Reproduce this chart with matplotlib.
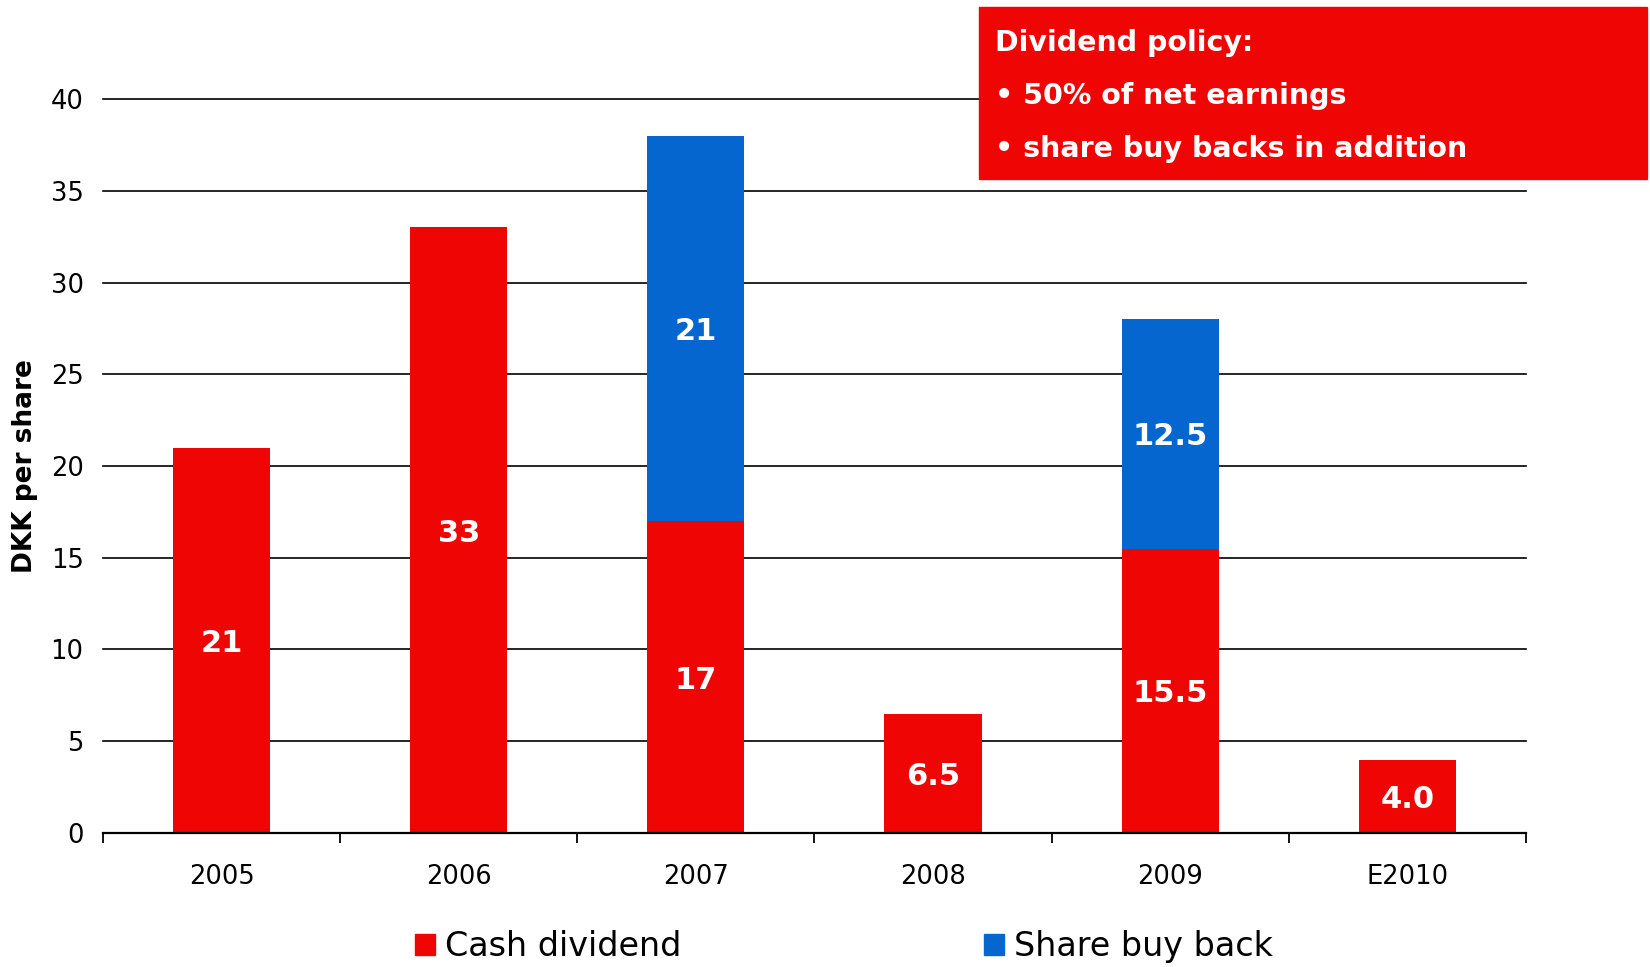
import numpy as np
from matplotlib import pyplot as plt
from matplotlib.patches import Rectangle, Patch

years = ['2005', '2006', '2007', '2008', '2009', 'E2010']
cash = [21, 33, 17, 6.5, 15.5, 4.0]
buyback = [0, 0, 21, 0, 12.5, 0]
cash_labels = ['21', '33', '17', '6.5', '15.5', '4.0']
buyback_labels = ['', '', '21', '', '12.5', '']
policy_lines = ['Dividend policy:', '\u2022 50% of net earnings',
                '\u2022 share buy backs in addition']

RED = '#f00505'
BLUE = '#0566cf'

fig = plt.figure(figsize=(16.5, 9.67), dpi=100)
ax = fig.add_axes([0.0624, 0.1386, 0.8624, 0.759])

x = np.arange(len(years))
w = 0.41
ax.bar(x, cash, width=w, color=RED, zorder=3)
ax.bar(x, buyback, width=w, bottom=cash, color=BLUE, zorder=3)

# value labels in the middle of each segment
for i in range(len(years)):
    ax.text(x[i], cash[i] / 2, cash_labels[i], ha='center',
            va='center_baseline', color='white', fontsize=22,
            fontweight='bold', zorder=4)
    if buyback[i] > 0:
        ax.text(x[i], cash[i] + buyback[i] / 2, buyback_labels[i],
                ha='center', va='center_baseline', color='white',
                fontsize=22, fontweight='bold', zorder=4)

ax.set_xlim(-0.5, len(years) - 0.5)
ax.set_ylim(0, 40)
ax.set_yticks(np.arange(0, 41, 5))
ax.yaxis.grid(True, color='black', linewidth=1.2, zorder=0)
for gl in ax.get_ygridlines():
    gl.set_clip_on(False)
ax.tick_params(axis='y', length=0, pad=14, labelsize=18.5)

# year labels centred, tick marks between categories
ax.set_xticks(x)
ax.set_xticklabels(years)
ax.set_xticks(np.arange(-0.5, len(years)), minor=True)
ax.tick_params(axis='x', which='major', length=0, pad=22, labelsize=18.5)
ax.tick_params(axis='x', which='minor', length=7, width=1.3, direction='out')

for s in ['top', 'right', 'left']:
    ax.spines[s].set_visible(False)
ax.spines['bottom'].set_linewidth(1.6)
ax.spines['bottom'].set_zorder(5)

ax.set_ylabel('DKK per share', fontsize=19, fontweight='bold')
ax.yaxis.set_label_coords(-0.046, 0.5)

# policy box in the top right corner
box = Rectangle((979 / 1650, 1 - 179 / 967), 668 / 1650, 172 / 967,
                transform=fig.transFigure, color=RED, zorder=10)
fig.patches.append(box)
for j, line in enumerate(policy_lines):
    fig.text(995 / 1650, 1 - (43 + 53 * j) / 967, line, color='white',
             fontsize=20.5, fontweight='bold', va='center', ha='left',
             zorder=11)

handles = [Patch(color=RED), Patch(color=BLUE)]
fig.legend(handles, ['Cash dividend', 'Share buy back'], loc='center',
           bbox_to_anchor=(0.5115, 0.021), ncol=2, frameon=False,
           fontsize=24, handlelength=0.6, handleheight=0.6,
           handletextpad=0.3, columnspacing=9.1)

fig.savefig('out.png', dpi=100)
